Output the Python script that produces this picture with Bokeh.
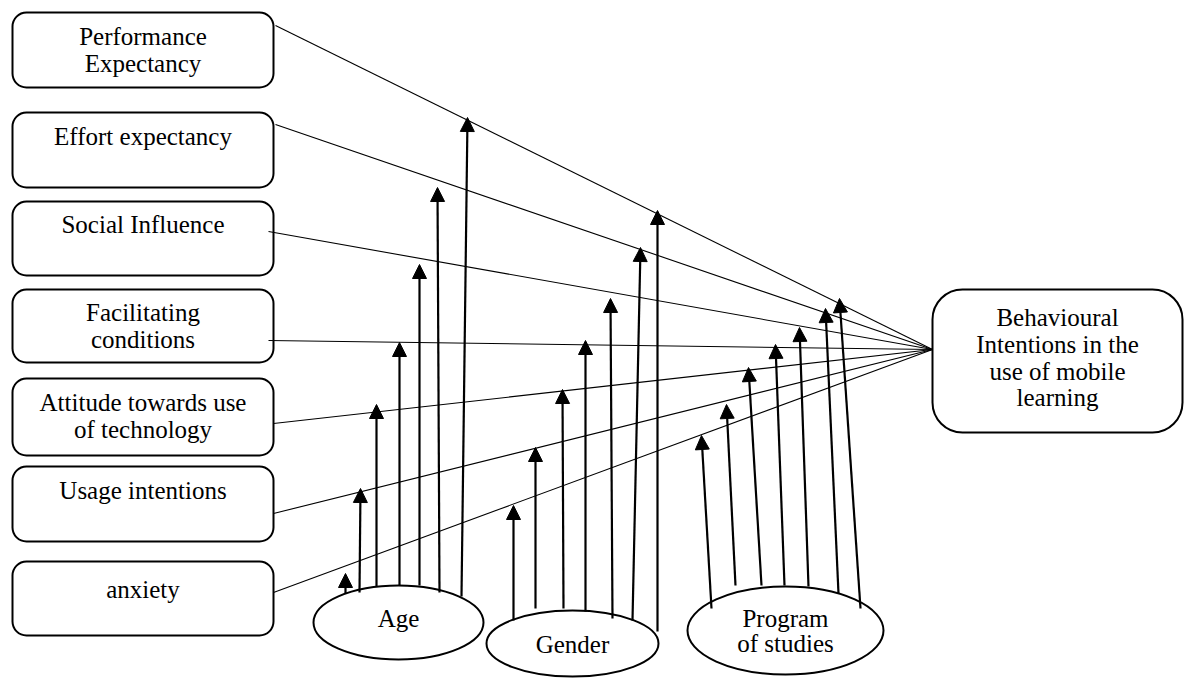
from bokeh.plotting import figure
from bokeh.models import BoxAnnotation, Arrow, NormalHead, ColumnDataSource, Range1d
from bokeh.core.properties import value
from bokeh.embed import file_html
from bokeh.resources import INLINE

# ---- content ----
box_lines = [["Performance", "Expectancy"], ["Effort expectancy"], ["Social Influence"],
             ["Facilitating", "conditions"], ["Attitude towards use", "of technology"],
             ["Usage intentions"], ["anxiety"]]
target_lines = ["Behavioural", "Intentions in the", "use of mobile", "learning"]
moderators = [["Age"], ["Gender"], ["Program", "of studies"]]

# ---- layout (screen-like coordinates) ----
box_left, box_right = 12, 273
box_top = [12, 112, 201, 289, 378, 466, 561]
box_bottom = [87, 187, 275, 362, 455, 541, 635]
box_text_y = [36, 136, 224, 312, 402, 490, 589]
line_gap = 27

line_start_x = [275, 275, 268, 268, 273, 273, 273]
line_start_y = [25, 124, 231, 340, 423, 513, 592]
hub_x, hub_y = 932, 349

tgt_left, tgt_right, tgt_top, tgt_bottom = 932, 1182, 289, 432
tgt_text_y = [317, 344, 371, 397]
tgt_text_x = 1057

ell_x = [398, 572, 785]
ell_y = [622, 643, 630]
ell_w = [170, 172, 196]
ell_h = [74, 66, 88]
ell_text_y = [[618], [644], [618, 643]]

age_x0 = [345, 359, 376, 399, 419, 439, 461]
age_y0 = [593, 592, 586, 585, 585, 592, 596]
age_x1 = [345, 360, 376, 399, 419, 437, 467]
age_y1 = [573, 488, 404, 342, 264, 187, 117]

gen_x0 = [513, 535, 563, 585, 612, 632, 657]
gen_y0 = [620, 608, 608, 611, 618, 620, 631]
gen_x1 = [513, 535, 562, 585, 610, 640, 657]
gen_y1 = [505, 447, 389, 340, 298, 247, 210]

prg_x0 = [711, 735, 761, 784, 808, 838, 860]
prg_y0 = [608, 585, 585, 585, 586, 593, 608]
prg_x1 = [701, 726, 748, 775, 799, 825, 839]
prg_y1 = [435, 404, 367, 344, 327, 308, 298]

FONT = value("Liberation Serif")
FS = "25px"

W, H = 1185, 679
p = figure(width=W, height=H, x_range=Range1d(0, W), y_range=Range1d(H, 0),
           output_backend="svg", toolbar_location=None, min_border=0,
           x_axis_location=None, y_axis_location=None, tools="")
p.grid.visible = False
p.outline_line_color = None
p.background_fill_color = "white"

# boxes
for t, b in zip(box_top, box_bottom):
    p.add_layout(BoxAnnotation(left=box_left, right=box_right, top=t, bottom=b,
                               border_radius=14, fill_color="white", fill_alpha=1.0,
                               line_color="black", line_alpha=1.0, line_width=2,
                               level="underlay"))
p.add_layout(BoxAnnotation(left=tgt_left, right=tgt_right, top=tgt_top, bottom=tgt_bottom,
                           border_radius=30, fill_color="white", fill_alpha=1.0,
                           line_color="black", line_alpha=1.0, line_width=2, level="underlay"))

# connecting lines
p.segment(x0=line_start_x, y0=line_start_y, x1=[hub_x] * len(line_start_x),
          y1=[hub_y] * len(line_start_y), line_color="black", line_width=1.1)

# ellipses
p.ellipse(x=ell_x, y=ell_y, width=ell_w, height=ell_h, fill_color="white",
          line_color="black", line_width=2)

# arrows
for xs0, ys0, xs1, ys1 in [(age_x0, age_y0, age_x1, age_y1),
                           (gen_x0, gen_y0, gen_x1, gen_y1),
                           (prg_x0, prg_y0, prg_x1, prg_y1)]:
    src = ColumnDataSource(dict(x0=xs0, y0=ys0, x1=xs1, y1=ys1))
    p.add_layout(Arrow(x_start="x0", y_start="y0", x_end="x1", y_end="y1", source=src,
                       line_color="black", line_width=2.2,
                       end=NormalHead(size=14, fill_color="black", line_color="black", line_width=1)))

# texts
tx, ty, tt = [], [], []
cx = (box_left + box_right) / 2
for lines, y in zip(box_lines, box_text_y):
    for i, s in enumerate(lines):
        tx.append(cx); ty.append(y + i * line_gap); tt.append(s)
for s, y in zip(target_lines, tgt_text_y):
    tx.append(tgt_text_x); ty.append(y); tt.append(s)
for lines, ys, x in zip(moderators, ell_text_y, ell_x):
    for s, y in zip(lines, ys):
        tx.append(x); ty.append(y); tt.append(s)

p.text(x=tx, y=ty, text=tt, text_font=FONT, text_font_size=FS, text_color="black",
       text_align="center", text_baseline="middle")

open("out.html", "w").write(file_html(p, INLINE))
